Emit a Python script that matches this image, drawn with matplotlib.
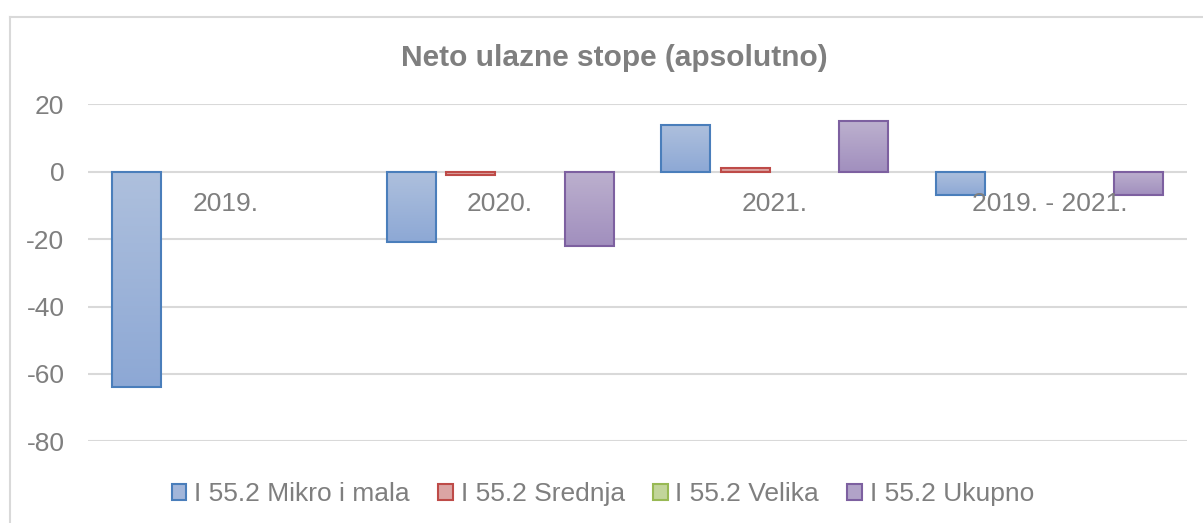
import numpy as np
import matplotlib
matplotlib.use("Agg")
import matplotlib.pyplot as plt
from matplotlib.patches import Patch
from matplotlib.lines import Line2D
from matplotlib.colors import LinearSegmentedColormap

categories = ["2019.", "2020.", "2021.", "2019. - 2021."]
series_names = ["I 55.2 Mikro i mala", "I 55.2 Srednja", "I 55.2 Velika", "I 55.2 Ukupno"]
mikro = [-64, -21, 14, -7]
srednja = [0, -1, 1, 0]
velika = [0, 0, 0, 0]
ukupno = [0, -22, 15, -7]
yticks = [20, 0, -20, -40, -60, -80]

series = [mikro, srednja, velika, ukupno]
edge_colors = ["#4A7EBB", "#BE4B48", "#98B954", "#7D60A0"]
grad_top = ["#AEC0DD", "#E2B4B3", "#CBDCA8", "#BCB0CE"]
grad_bot = ["#8DA8D5", "#D59593", "#B2CB80", "#A18FBE"]
mid_cols = ["#A2B6DA", "#DBA5A4", "#C2D59A", "#B1A3C8"]

W, H = 1203, 523
fig = plt.figure(figsize=(W / 100, H / 100), dpi=100)
plt.rcParams['font.family'] = ['Liberation Sans', 'DejaVu Sans']
txt = "#7F7F7F"

ax = fig.add_axes([88 / W, 1 - 441.3 / H, (1187 - 88) / W, (441.3 - 104.3) / H])

x = np.arange(len(categories))
bw = 0.178
step = 0.216
for j, vals in enumerate(series):
    bars = ax.bar(x + (j - 1.5) * step, vals, width=bw, facecolor="none",
                  edgecolor=edge_colors[j], linewidth=1.5, zorder=3)
    cmap = LinearSegmentedColormap.from_list("g%d" % j, [grad_top[j], grad_bot[j]])
    for b, v in zip(bars, vals):
        if v == 0:
            b.set_visible(False)
            continue
        x0 = b.get_x()
        x1 = x0 + b.get_width()
        y0, y1 = sorted([0, v])
        grad = np.linspace(0, 1, 100).reshape(-1, 1)
        im = ax.imshow(grad, extent=(x0, x1, y0, y1), origin="upper", cmap=cmap,
                       aspect="auto", zorder=2.5, interpolation="bilinear")
        im.set_clip_path(b)
ax.set_xlim(-0.5, 3.5)
ax.set_ylim(-80, 20)

ax.set_yticks(yticks)
ax.set_yticklabels([str(t) for t in yticks])
ax.tick_params(axis="y", length=0, pad=17, labelsize=19, labelcolor=txt)
ax.set_xticks([])
ax.grid(axis="y", color="#D9D9D9", linewidth=1.5, zorder=0)
ax.set_axisbelow(True)
for s in ax.spines.values():
    s.set_visible(False)

for i, c in enumerate(categories):
    ax.annotate(c, xy=(i, 0), xytext=(0, -14.5), textcoords="offset points",
                ha="center", va="top", fontsize=19, color=txt, zorder=6,
                annotation_clip=False)

fig.text(614 / W, 1 - 58 / H, "Neto ulazne stope (apsolutno)", ha="center", va="center",
         fontsize=21.5, fontweight="bold", color=txt)

# chart border
fig.add_artist(Line2D([10 / W, 10 / W], [0, 1 - 17 / H], color="#D9D9D9", linewidth=1.5,
                      transform=fig.transFigure))
fig.add_artist(Line2D([10 / W, 1], [1 - 17 / H, 1 - 17 / H], color="#D9D9D9", linewidth=1.5,
                      transform=fig.transFigure))

handles = [Patch(facecolor=mid_cols[j], edgecolor=edge_colors[j], linewidth=1.5)
           for j in range(4)]
fig.legend(handles, series_names, loc="center", bbox_to_anchor=(603 / W, 1 - 494 / H),
           ncol=4, frameon=False, fontsize=19, labelcolor=txt, handlelength=0.55,
           handleheight=0.55, handletextpad=0.3, columnspacing=1.07)

fig.savefig("out.png", dpi=100)
